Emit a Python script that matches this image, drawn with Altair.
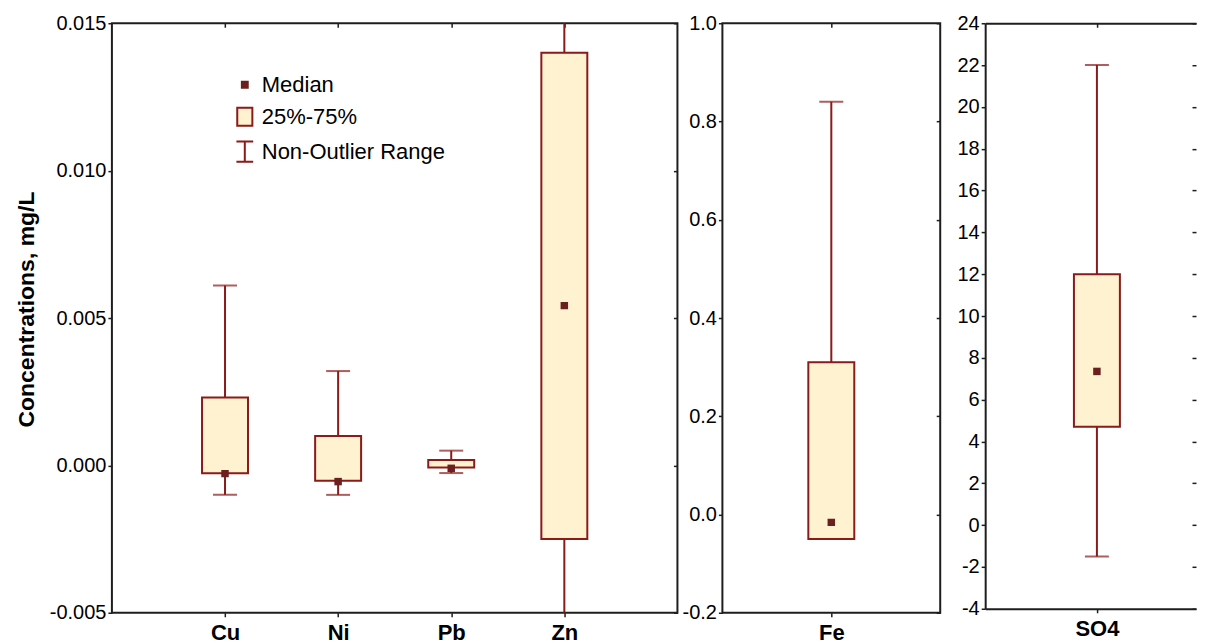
import altair as alt
import pandas as pd

# ---- data ----
left_cats = ["Cu", "Ni", "Pb", "Zn"]
left_lo = [-0.0010, -0.0010, -0.00026, -0.0065]
left_q1 = [-0.00027, -0.00052, -0.00007, -0.0025]
left_med = [-0.00028, -0.00055, -0.00010, 0.00542]
left_q3 = [0.0023, 0.0010, 0.00018, 0.0140]
left_hi = [0.0061, 0.0032, 0.0005, 0.0165]
left_ticks = [-0.005, 0.0, 0.005, 0.010, 0.015]

mid_cats = ["Fe"]
mid_lo = [-0.05]
mid_q1 = [-0.05]
mid_med = [-0.016]
mid_q3 = [0.31]
mid_hi = [0.84]
mid_ticks = [-0.2, 0.0, 0.2, 0.4, 0.6, 0.8, 1.0]

right_cats = ["SO4"]
right_lo = [-1.5]
right_q1 = [4.7]
right_med = [7.35]
right_q3 = [12.0]
right_hi = [22.0]
right_ticks = [-4, -2, 0, 2, 4, 6, 8, 10, 12, 14, 16, 18, 20, 22, 24]

legend_items = ["Median", "25%-75%", "Non-Outlier Range"]

# ---- styles ----
BOX_FILL = "#fff2d0"
BOX_STROKE = "#8b1a1a"
MED_COL = "#6b1f1f"
FRAME = "#1e1e1e"
FONT = "Liberation Sans"
MINUS = "\u2212"


def panel(cats, lo, q1, med, q3, hi, domain, ticks, fmt, width, height, title=None,
          legend=False, open_right=False, align=0.5):
    df = pd.DataFrame(dict(cat=cats, lo=lo, q1=q1, med=med, q3=q3, hi=hi))
    base = alt.Chart(df)
    xscale = alt.Scale(type="point", padding=1, align=align)
    yscale = alt.Scale(domain=domain, nice=False, zero=False)
    label_expr = "replace(format(datum.value, '%s'), '%s', '-')" % (fmt, MINUS)
    dom = dict(domain=True, domainColor=FRAME, domainWidth=2) if open_right else dict(domain=False)

    x_bottom = alt.X("cat:N", sort=cats, scale=xscale, title=None,
                     axis=alt.Axis(orient="bottom", labelAngle=0, labelFont=FONT, labelFontWeight="bold",
                                   labelFontSize=22, labelColor="black", tickSize=4, tickColor=FRAME,
                                   tickWidth=1.5, labelPadding=6, **dom))
    y_left_args = dict(orient="left", values=ticks, labelExpr=label_expr, labelFont=FONT,
                       labelFontSize=20, labelColor="black", tickSize=4, tickColor=FRAME,
                       tickWidth=1.5, grid=False, labelPadding=2, **dom)
    if title:
        y_left_args.update(title=title, titleFont=FONT, titleFontWeight="bold", titleFontSize=23,
                           titleColor="black", titlePadding=11, titleY=286)
    else:
        y_left_args.update(title=None)
    y_left = alt.Y("lo:Q", scale=yscale, axis=alt.Axis(**y_left_args))

    whisk = base.mark_rule(color=BOX_STROKE, strokeWidth=2, clip=True).encode(
        x=x_bottom, y=y_left, y2="hi:Q")

    x_top = alt.X("cat:N", sort=cats, scale=xscale, title=None,
                  axis=alt.Axis(orient="top", labels=False, tickSize=4, offset=-4, tickColor=FRAME,
                                tickWidth=1.5, domain=False))
    y_right = alt.Y("lo:Q", scale=yscale, title=None,
                    axis=alt.Axis(orient="right", values=ticks, labels=False, tickSize=4, offset=-4,
                                  tickColor=FRAME, tickWidth=1.5, domain=False, grid=False))
    cap_lo = base.mark_tick(color=BOX_STROKE, size=24, thickness=2, clip=True).encode(
        x=x_top, y=y_right)
    if open_right:
        x_cap = alt.X("cat:N", sort=cats, scale=xscale, title=None,
                      axis=alt.Axis(orient="top", labels=False, ticks=False, domain=True,
                                    domainColor=FRAME, domainWidth=2))
    else:
        x_cap = alt.X("cat:N", sort=cats, scale=xscale, axis=None)
    cap_hi = base.mark_tick(color=BOX_STROKE, size=24, thickness=2, clip=True).encode(
        x=x_cap, y=alt.Y("hi:Q", scale=yscale, axis=None))
    box = base.mark_bar(size=46, fill=BOX_FILL, stroke=BOX_STROKE, strokeWidth=2, clip=True).encode(
        x=alt.X("cat:N", sort=cats, scale=xscale, axis=None),
        y=alt.Y("q1:Q", scale=yscale, axis=None), y2="q3:Q")
    medm = base.mark_square(size=56, color=MED_COL, opacity=1, clip=True).encode(
        x=alt.X("cat:N", sort=cats, scale=xscale, axis=None),
        y=alt.Y("med:Q", scale=yscale, axis=None))

    layers = [whisk, cap_lo, cap_hi, box, medm]
    if legend:
        ldf = pd.DataFrame({"item": legend_items})
        lg = alt.Legend(title=None)
        leg = alt.Chart(ldf).mark_point(filled=False, strokeWidth=2, opacity=1, size=441).encode(
            shape=alt.Shape("item:N", sort=legend_items, legend=lg, scale=alt.Scale(
                domain=legend_items,
                range=["M-0.28,-0.28H0.28V0.28H-0.28Z",
                       "M-0.72,-0.86H0.72V0.86H-0.72Z",
                       "M-0.8,-0.96H0.8M0,-0.96V0.96M-0.8,0.96H0.8"])),
            fill=alt.Fill("item:N", sort=legend_items, legend=lg, scale=alt.Scale(
                domain=legend_items, range=[MED_COL, BOX_FILL, "transparent"])),
            stroke=alt.Stroke("item:N", sort=legend_items, legend=lg, scale=alt.Scale(
                domain=legend_items, range=[MED_COL, BOX_STROKE, BOX_STROKE])),
        ).transform_filter("false")
        layers.append(leg)

    props = dict(width=width, height=height)
    if open_right:
        props["view"] = alt.ViewBackground(stroke="transparent")
    return alt.layer(*layers).resolve_axis(x="independent", y="independent").properties(**props)


left = panel(left_cats, left_lo, left_q1, left_med, left_q3, left_hi,
             [-0.005, 0.015], left_ticks, ".3f", 566, 590,
             title="Concentrations, mg/L", legend=True)
mid = panel(mid_cats, mid_lo, mid_q1, mid_med, mid_q3, mid_hi,
            [-0.2, 1.0], mid_ticks, ".1f", 218, 590)
right = panel(right_cats, right_lo, right_q1, right_med, right_q3, right_hi,
              [-4, 24], right_ticks, "d", 211, 586, open_right=True, align=0.53)

chart = alt.hconcat(left, mid, right, spacing=45, bounds="flush").properties(
    padding={"left": 6, "top": 4, "right": 0, "bottom": 0}
).configure(
    background="white"
).configure_view(
    stroke=FRAME, strokeWidth=2
).configure_legend(
    orient="none", legendX=121.5, legendY=50, labelFont=FONT, labelFontSize=22,
    labelColor="black", symbolStrokeWidth=2, symbolSize=441, symbolOpacity=1,
    rowPadding=7, labelOffset=5.5, padding=0, labelLimit=0
)

chart.save("out.html", embed_options={"renderer": "svg", "actions": False})
